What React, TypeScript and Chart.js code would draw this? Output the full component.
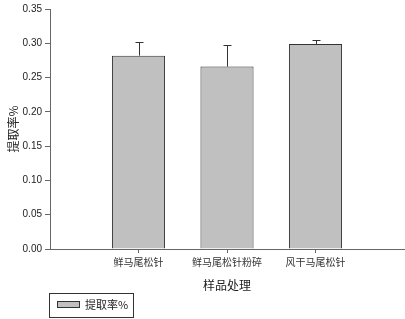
import React, { useEffect, useRef } from "react";
import { Chart, registerables } from "chart.js";

Chart.register(...registerables);

const categories = ["鲜马尾松针", "鲜马尾松针粉碎", "风干马尾松针"];
const values = [0.282, 0.266, 0.299];
const errors = [0.02, 0.032, 0.006];
const yTickValues = [0, 0.05, 0.1, 0.15, 0.2, 0.25, 0.3, 0.35];
const seriesName = "提取率%";
const xTitle = "样品处理";
const yTitle = "提取率%";

const CJK = '"Noto Sans CJK SC", "Noto Sans", sans-serif';

const errorBarPlugin = {
  id: "errorBars",
  afterDatasetsDraw(chart: any) {
    const ctx = chart.ctx;
    const meta = chart.getDatasetMeta(0);
    const yScale = chart.scales.y;
    ctx.save();
    ctx.strokeStyle = "#333";
    ctx.lineWidth = 1;
    meta.data.forEach((bar: any, i: number) => {
      const x = Math.round(bar.x) + 0.5;
      const yTop = yScale.getPixelForValue(values[i]);
      const yErr = Math.round(yScale.getPixelForValue(values[i] + errors[i])) + 0.5;
      ctx.beginPath();
      ctx.moveTo(x, yTop);
      ctx.lineTo(x, yErr);
      ctx.moveTo(x - 4, yErr);
      ctx.lineTo(x + 4, yErr);
      ctx.stroke();
    });
    ctx.restore();
  },
};

const legendPlugin = {
  id: "boxLegend",
  afterDraw(chart: any) {
    const ctx = chart.ctx;
    const left = chart.chartArea.left - 1;
    const top = chart.height - 26;
    ctx.save();
    ctx.strokeStyle = "#333";
    ctx.lineWidth = 1;
    ctx.strokeRect(left + 0.5, top + 0.5, 84, 24);
    ctx.fillStyle = "#c0c0c0";
    ctx.fillRect(left + 8, top + 8, 23, 6);
    ctx.strokeRect(left + 8.5, top + 8.5, 22, 6);
    ctx.fillStyle = "#222";
    ctx.font = `11px ${CJK}`;
    ctx.textBaseline = "middle";
    ctx.textAlign = "left";
    ctx.fillText(seriesName, left + 36, top + 12);
    ctx.restore();
  },
};

export default function App() {
  const ref = useRef<HTMLCanvasElement | null>(null);
  useEffect(() => {
    if (!ref.current) return;
    const chart = new Chart(ref.current, {
      type: "bar",
      data: {
        datasets: [
          {
            label: seriesName,
            data: values.map((v, i) => ({ x: i + 1, y: v })),
            backgroundColor: "#c0c0c0",
            borderColor: "#333",
            borderWidth: 1,
            barPercentage: 0.6,
            categoryPercentage: 1,
          },
        ],
      },
      options: {
        animation: false,
        responsive: false,
        maintainAspectRatio: false,
        layout: { padding: { top: 5, right: 1, left: 0, bottom: 0 } },
        plugins: { legend: { display: false }, tooltip: { enabled: false } },
        scales: {
          x: {
            type: "linear",
            offset: false,
            min: 0,
            max: categories.length + 1,
            afterBuildTicks: (scale: any) => {
              scale.ticks = categories.map((_, i) => ({ value: i + 1 }));
            },
            afterFit: (scale: any) => {
              scale.height = 70;
            },
            ticks: {
              autoSkip: false,
              maxRotation: 0,
              padding: 3,
              color: "#333",
              font: { family: CJK, size: 10 },
              callback: (v: any) => categories[Number(v) - 1] ?? "",
            },
            grid: { offset: false, drawOnChartArea: false, drawTicks: true, tickLength: 4, color: "#666" },
            border: { display: true, color: "#666", width: 1 },
            title: {
              display: true,
              text: xTitle,
              color: "#222",
              font: { family: CJK, size: 12 },
              padding: { top: 0, bottom: 26 },
            },
          },
          y: {
            min: 0,
            max: 0.35,
            afterBuildTicks: (scale: any) => {
              scale.ticks = yTickValues.map((v) => ({ value: v }));
            },
            afterFit: (scale: any) => {
              scale.width = 50;
            },
            ticks: {
              padding: 3,
              color: "#222",
              font: { family: '"Liberation Sans", Arial, sans-serif', size: 10 },
              callback: (v: any) => Number(v).toFixed(2),
            },
            grid: { drawOnChartArea: false, drawTicks: true, tickLength: 5, color: "#666" },
            border: { display: true, color: "#666", width: 1 },
            title: {
              display: true,
              text: yTitle,
              color: "#222",
              font: { family: CJK, size: 12 },
              padding: { top: 6, bottom: 0 },
            },
          },
        },
      },
      plugins: [errorBarPlugin, legendPlugin],
    } as any);
    return () => chart.destroy();
  }, []);
  return (
    <div style={{ position: "absolute", left: 0, top: 0, width: 405, height: 319, background: "#fff" }}>
      <canvas ref={ref} width={405} height={319} style={{ width: 405, height: 319 }} />
    </div>
  );
}
